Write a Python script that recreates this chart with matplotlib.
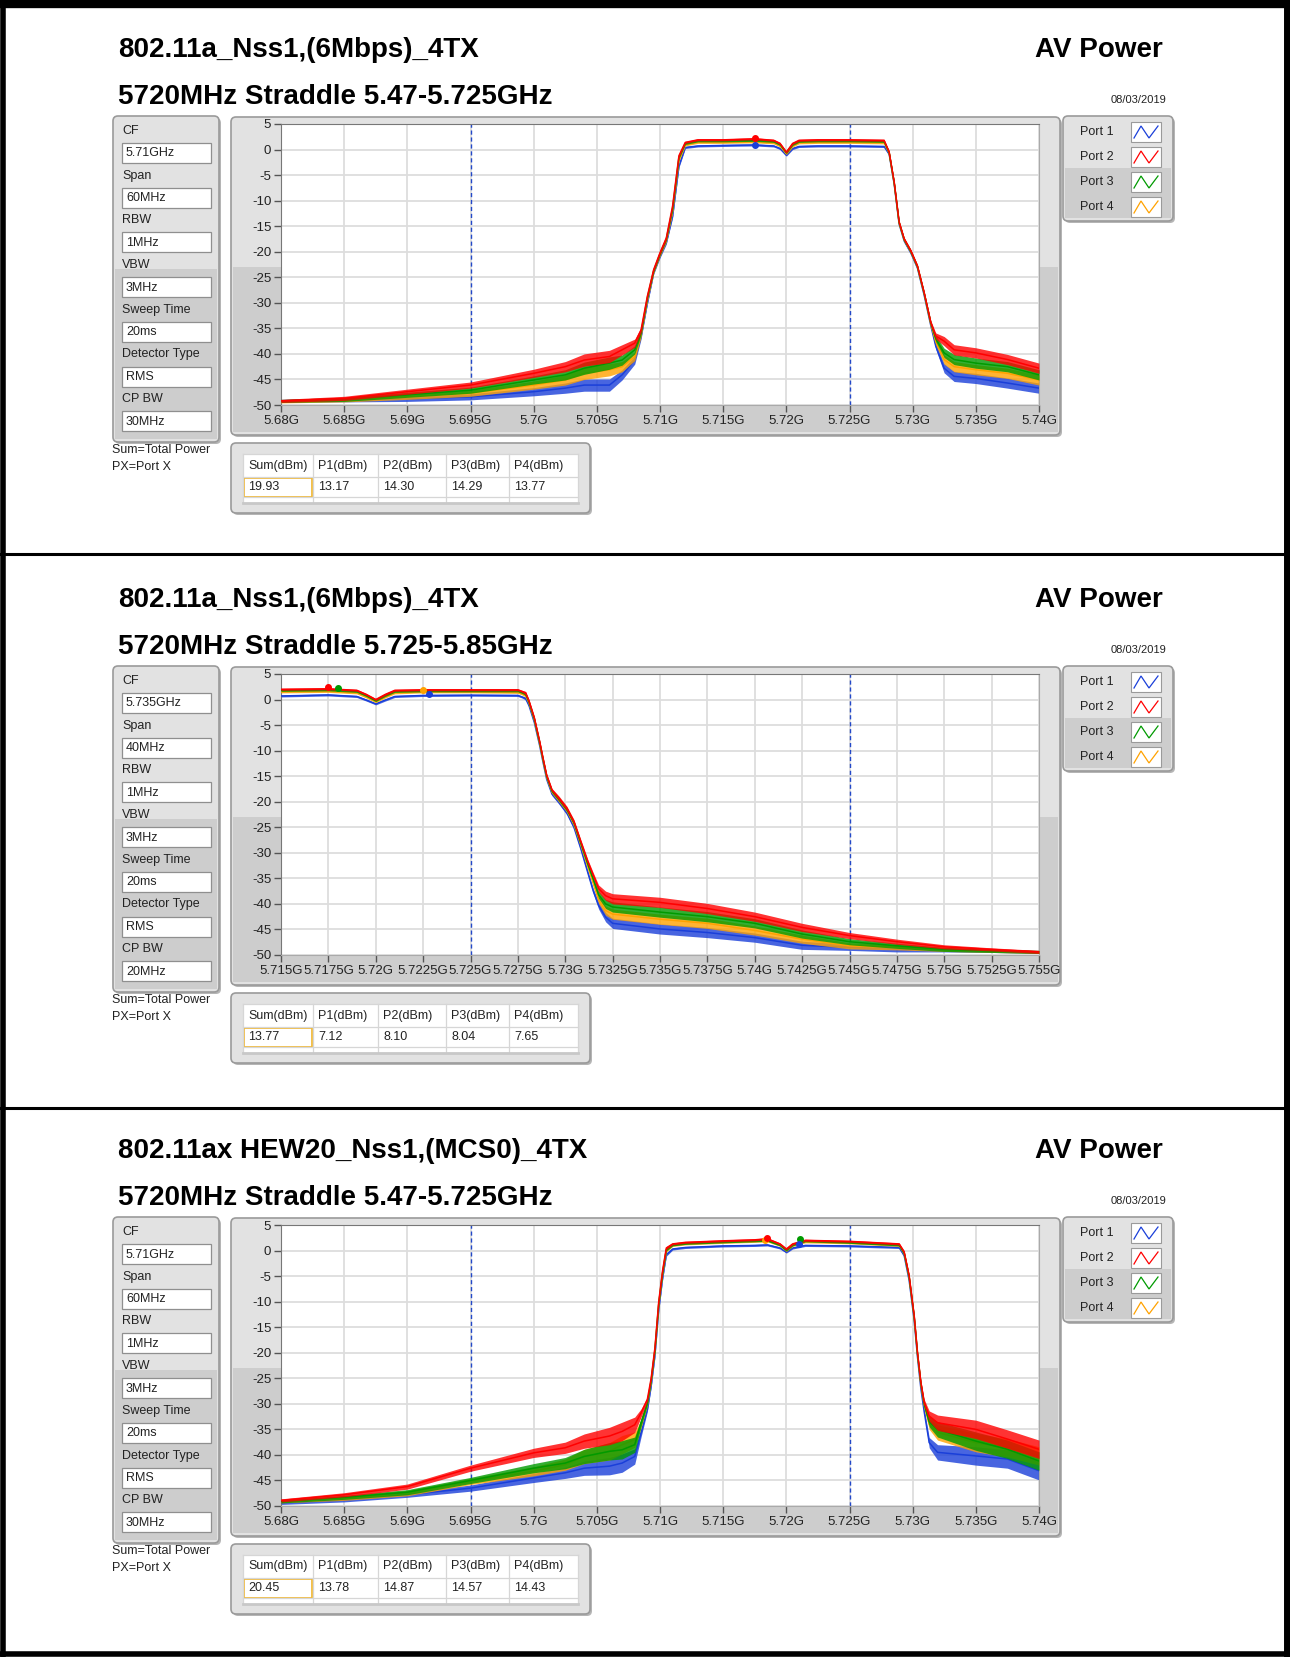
import matplotlib
matplotlib.use("Agg")
import matplotlib.pyplot as plt
from matplotlib.patches import Rectangle, FancyBboxPatch

plt.rcParams['font.family'] = ['Liberation Sans', 'DejaVu Sans']
plt.rcParams['axes.unicode_minus'] = False

W, H = 1290, 1657

# ---------------- data ----------------
port_names = ["Port 1", "Port 2", "Port 3", "Port 4"]
port_colors = ["#1a3fd9", "#ff0000", "#009a00", "#ffa200"]
draw_order = [0, 3, 2, 1]  # red ends up on top, like the analyser

titles = ["802.11a_Nss1,(6Mbps)_4TX", "802.11a_Nss1,(6Mbps)_4TX",
          "802.11ax HEW20_Nss1,(MCS0)_4TX"]
subtitles = ["5720MHz Straddle 5.47-5.725GHz", "5720MHz Straddle 5.725-5.85GHz",
             "5720MHz Straddle 5.47-5.725GHz"]
right_title = "AV Power"
date_text = "08/03/2019"

setting_labels = ["CF", "Span", "RBW", "VBW", "Sweep Time", "Detector Type", "CP BW"]
settings_1 = ["5.71GHz", "60MHz", "1MHz", "3MHz", "20ms", "RMS", "30MHz"]
settings_2 = ["5.735GHz", "40MHz", "1MHz", "3MHz", "20ms", "RMS", "20MHz"]
settings_3 = ["5.71GHz", "60MHz", "1MHz", "3MHz", "20ms", "RMS", "30MHz"]

table_headers = ["Sum(dBm)", "P1(dBm)", "P2(dBm)", "P3(dBm)", "P4(dBm)"]
table_1 = ["19.93", "13.17", "14.30", "14.29", "13.77"]
table_2 = ["13.77", "7.12", "8.10", "8.04", "7.65"]
table_3 = ["20.45", "13.78", "14.87", "14.57", "14.43"]

xticks_1 = [5.68, 5.685, 5.69, 5.695, 5.7, 5.705, 5.71, 5.715, 5.72, 5.725, 5.73, 5.735, 5.74]
xticks_2 = [5.715, 5.7175, 5.72, 5.7225, 5.725, 5.7275, 5.73, 5.7325, 5.735, 5.7375,
            5.74, 5.7425, 5.745, 5.7475, 5.75, 5.7525, 5.755]
xticks_3 = xticks_1
yticks = [-50, -45, -40, -35, -30, -25, -20, -15, -10, -5, 0, 5]
limit_lines_1 = [5.695, 5.725]
limit_lines_2 = [5.725, 5.745]
limit_lines_3 = [5.695, 5.725]

# panel 1 traces (GHz, dBm)
freq_1 = [5.680, 5.685, 5.690, 5.695, 5.700, 5.7025, 5.704, 5.706, 5.707, 5.708,
          5.7085, 5.709, 5.7095, 5.710, 5.7105, 5.711, 5.7115, 5.712, 5.713, 5.715,
          5.7175, 5.719, 5.7195, 5.720, 5.7205, 5.721, 5.7225, 5.725,
          5.72774, 5.72814, 5.72854, 5.72893, 5.72933, 5.72985, 5.73038, 5.73091,
          5.73144, 5.73183, 5.73249, 5.73328, 5.735, 5.7375, 5.740]
p1_port1 = [-49.2, -49.0, -48.8, -48.4, -47.4, -46.7, -46.1, -46.1, -44.1, -41.2,
            -36.6, -30.0, -24.1, -20.9, -18.2, -13.0, -3.2, 0.4, 0.7, 0.8,
            0.9, 0.7, 0.2, -1.1, 0.2, 0.6, 0.7, 0.7,
            0.6, -0.9, -6.8, -14.6, -17.9, -20.2, -23.2, -28.5, -34.5, -38.5, -42.8, -44.4, -44.8, -45.7, -46.7]
p1_port2 = [-49.2, -48.7, -47.4, -46.1, -43.8, -42.5, -41.2, -40.5, -39.2, -37.9,
            -35.3, -28.7, -23.5, -20.2, -17.3, -11.0, -1.2, 1.4, 1.9, 1.9,
            2.1, 1.8, 1.2, -0.5, 1.2, 1.8, 1.9, 1.9,
            1.8, -0.5, -6.4, -14.2, -17.5, -19.8, -22.8, -28.0, -33.9, -36.5, -37.5, -39.2, -39.8, -41.1, -42.8]
p1_port3 = [-49.2, -48.9, -48.0, -47.1, -45.1, -44.1, -42.8, -41.8, -41.2, -39.2,
            -35.8, -29.0, -23.7, -20.4, -17.5, -11.5, -1.5, 1.2, 1.7, 1.7,
            1.8, 1.6, 1.0, -0.6, 1.0, 1.6, 1.7, 1.7,
            1.6, -0.6, -6.5, -14.3, -17.6, -19.9, -22.9, -28.1, -34.0, -37.0, -39.8, -41.1, -41.8, -42.5, -44.1]
p1_port4 = [-49.3, -49.0, -48.4, -47.7, -46.1, -45.1, -43.8, -43.1, -42.5, -40.5,
            -36.2, -29.4, -23.9, -20.6, -17.8, -12.0, -2.0, 0.9, 1.4, 1.4,
            1.5, 1.3, 0.7, -0.8, 0.7, 1.3, 1.4, 1.4,
            1.3, -0.7, -6.6, -14.4, -17.7, -20.0, -23.0, -28.2, -34.2, -37.6, -41.1, -42.5, -43.1, -43.8, -45.1]
# visible trace jitter (half width, dB) read at the same frequencies
p1_jitter = [0.3, 0.4, 0.5, 0.6, 0.8, 1.0, 1.2, 1.2, 1.0, 0.8,
             0.5, 0.3, 0.3, 0.3, 0.3, 0.3, 0.3, 0.2, 0.2, 0.2,
             0.2, 0.2, 0.2, 0.2, 0.2, 0.2, 0.2, 0.2,
             0.2, 0.3, 0.3, 0.3, 0.3, 0.3, 0.3, 0.3, 0.4, 0.6, 0.9, 1.0, 1.0, 1.0, 1.0]

# panel 2 traces
freq_2 = [5.715, 5.7175, 5.719, 5.7195, 5.720, 5.7205, 5.721, 5.7225, 5.725, 5.7275,
          5.72772, 5.72791, 5.72809, 5.72837, 5.72865, 5.72883, 5.72902, 5.72930, 5.72967, 5.73009,
          5.73046, 5.73083, 5.73120, 5.73148, 5.73176, 5.73213, 5.7325, 5.735, 5.7375, 5.740,
          5.7425, 5.745, 5.7475, 5.750, 5.7525, 5.755]
p2_port1 = [0.7, 0.9, 0.6, -0.1, -0.85, -0.1, 0.6, 0.8, 0.85, 0.8,
            0.5, 0.2, -1.2, -4.5, -9.0, -12.3, -15.6, -18.5, -20.1, -22.2,
            -25.0, -29.3, -34.0, -37.5, -40.3, -42.6, -43.8, -44.9, -45.6, -46.6,
            -48.1, -48.5, -48.9, -49.0, -49.2, -49.4]
p2_port2 = [2.0, 2.1, 1.8, 1.0, 0.0, 1.0, 1.8, 1.9, 1.9, 1.9,
            1.6, 1.3, -0.3, -3.6, -8.2, -11.5, -14.8, -17.7, -19.3, -21.3,
            -23.9, -27.9, -31.8, -34.4, -37.0, -38.4, -39.0, -39.7, -40.9, -42.5,
            -44.6, -46.2, -47.4, -48.4, -48.9, -49.4]
p2_port3 = [1.8, 1.9, 1.6, 0.8, -0.2, 0.8, 1.6, 1.7, 1.7, 1.7,
            1.4, 1.1, -0.5, -3.8, -8.4, -11.7, -15.0, -17.9, -19.5, -21.5,
            -24.1, -28.2, -32.3, -35.2, -38.2, -40.0, -40.6, -41.6, -42.5, -43.8,
            -45.9, -47.4, -48.2, -48.9, -49.2, -49.4]
p2_port4 = [1.5, 1.6, 1.3, 0.5, -0.4, 0.5, 1.3, 1.5, 1.5, 1.4,
            1.1, 0.8, -0.7, -4.0, -8.6, -11.9, -15.2, -18.1, -19.7, -21.7,
            -24.4, -28.5, -32.8, -36.0, -39.2, -41.3, -42.0, -43.0, -43.8, -45.2,
            -46.9, -48.2, -48.5, -48.9, -49.2, -49.4]
p2_jitter = [0.2, 0.2, 0.2, 0.2, 0.2, 0.2, 0.2, 0.2, 0.2, 0.2,
             0.2, 0.3, 0.3, 0.3, 0.3, 0.3, 0.3, 0.3, 0.4, 0.4,
             0.4, 0.4, 0.4, 0.5, 0.7, 0.9, 1.0, 1.0, 1.0, 0.9,
             0.8, 0.6, 0.5, 0.4, 0.3, 0.3]

# panel 3 traces
freq_3 = [5.680, 5.685, 5.690, 5.695, 5.700, 5.7025, 5.704, 5.706, 5.707, 5.708,
          5.7085, 5.709, 5.7093, 5.7096, 5.7099, 5.7102, 5.7105, 5.711, 5.712, 5.715,
          5.7175, 5.7185, 5.7195, 5.720, 5.7205, 5.7215, 5.725, 5.72893, 5.72933, 5.72972,
          5.73012, 5.73038, 5.73065, 5.73091, 5.73131, 5.73197, 5.735, 5.7375, 5.740]
p3_port1 = [-49.4, -48.8, -47.8, -46.5, -44.5, -43.5, -42.6, -42.2, -41.6, -40.3,
            -35.7, -31.1, -26.5, -20.5, -11.5, -5.5, -0.8, 0.3, 0.6, 0.9,
            1.0, 1.1, 0.5, -0.3, 0.5, 1.0, 0.9, 0.6, -1.0, -5.8,
            -13.6, -20.8, -27.0, -31.5, -37.6, -39.5, -40.2, -40.8, -43.1]
p3_port2 = [-48.9, -47.8, -46.2, -42.6, -39.6, -38.6, -37.3, -36.3, -35.4, -34.1,
            -31.8, -29.1, -25.0, -19.0, -10.0, -4.0, 0.5, 1.3, 1.6, 1.9,
            2.1, 2.3, 1.3, 0.3, 1.3, 2.0, 1.8, 1.3, -0.3, -4.9,
            -12.7, -19.9, -25.8, -29.7, -32.4, -33.7, -35.0, -36.9, -38.9]
p3_port3 = [-49.1, -48.3, -47.3, -45.0, -42.6, -41.6, -40.3, -39.3, -39.0, -38.0,
            -33.7, -29.8, -25.4, -19.4, -10.4, -4.4, 0.2, 1.1, 1.4, 1.7,
            1.9, 2.0, 1.1, 0.1, 1.1, 1.9, 1.6, 1.1, -0.5, -5.1,
            -12.9, -20.1, -26.0, -30.0, -33.5, -35.0, -37.3, -38.9, -41.2]
p3_port4 = [-49.1, -48.5, -47.5, -45.2, -43.2, -41.9, -40.3, -39.3, -38.0, -37.0,
            -33.9, -30.0, -25.6, -19.6, -10.6, -4.6, 0.0, 1.0, 1.3, 1.6,
            1.8, 1.9, 1.0, 0.0, 1.0, 1.7, 1.5, 1.0, -0.6, -5.2,
            -13.0, -20.2, -26.2, -30.2, -34.0, -35.6, -37.6, -38.6, -40.2]
p3_jitter = [0.3, 0.4, 0.5, 0.6, 0.9, 1.1, 1.4, 1.7, 1.8, 1.5,
             0.8, 0.4, 0.3, 0.3, 0.3, 0.3, 0.3, 0.2, 0.2, 0.2,
             0.2, 0.2, 0.2, 0.2, 0.2, 0.2, 0.2, 0.2, 0.3, 0.3,
             0.3, 0.3, 0.4, 0.6, 1.0, 1.5, 1.8, 1.8, 1.8]

# peak markers (port index, GHz, dBm)
markers_1 = [(1, 5.7175, 2.3), (0, 5.7175, 0.9)]
markers_2 = [(1, 5.7175, 2.4), (2, 5.718, 2.2), (3, 5.7225, 1.8), (0, 5.7228, 1.1)]
markers_3 = [(3, 5.7183, 2.0), (1, 5.7185, 2.5), (2, 5.7211, 2.3), (0, 5.721, 1.3)]

panels = [
    (titles[0], subtitles[0], settings_1, table_1, xticks_1, limit_lines_1, freq_1,
     [p1_port1, p1_port2, p1_port3, p1_port4], p1_jitter, markers_1),
    (titles[1], subtitles[1], settings_2, table_2, xticks_2, limit_lines_2, freq_2,
     [p2_port1, p2_port2, p2_port3, p2_port4], p2_jitter, markers_2),
    (titles[2], subtitles[2], settings_3, table_3, xticks_3, limit_lines_3, freq_3,
     [p3_port1, p3_port2, p3_port3, p3_port4], p3_jitter, markers_3),
]
panel_offsets = [0, 550, 1101]

# ---------------- drawing ----------------
LIGHT = "#e2e2e2"
DARK = "#cdcdcd"
EDGE = "#9a9a9a"
TXT = "#222222"

fig = plt.figure(figsize=(W / 100, H / 100), dpi=100)
bg = fig.add_axes([0, 0, 1, 1], zorder=0)
bg.set_xlim(0, W)
bg.set_ylim(H, 0)
bg.axis('off')


def frame(x0, y0, x1, y1, split=None):
    """LabVIEW style rounded gray panel"""
    bg.add_patch(FancyBboxPatch((x0 + 2, y0 + 2), x1 - x0, y1 - y0,
                                boxstyle="round,pad=0,rounding_size=5",
                                fc="#b5b5b5", ec="none"))
    bg.add_patch(FancyBboxPatch((x0, y0), x1 - x0, y1 - y0,
                                boxstyle="round,pad=0,rounding_size=5",
                                fc=LIGHT, ec="none"))
    if split is not None:
        bg.add_patch(Rectangle((x0 + 2, split), x1 - x0 - 4, y1 - split - 3,
                               fc=DARK, ec="none"))
    bg.add_patch(FancyBboxPatch((x0, y0), x1 - x0, y1 - y0,
                                boxstyle="round,pad=0,rounding_size=5",
                                fc="none", ec=EDGE, lw=1.2))


def field(x0, y0, x1, y1, text):
    bg.add_patch(Rectangle((x0, y0), x1 - x0, y1 - y0, fc="white", ec="#8f8f8f", lw=0.9))
    bg.text(x0 + 4, (y0 + y1) / 2 + 0.5, text, fontsize=9, color=TXT, va="center", ha="left")


for (title, subtitle, sett, tvals, xt, lims, freq, traces, jit, marks), dy in zip(panels, panel_offsets):
    # headings
    bg.text(118, 50 + dy, title, fontsize=20, fontweight="bold", va="center", ha="left")
    bg.text(118, 97 + dy, subtitle, fontsize=20, fontweight="bold", va="center", ha="left")
    bg.text(1163, 50 + dy, right_title, fontsize=20, fontweight="bold", va="center", ha="right")
    bg.text(1166, 100 + dy, date_text, fontsize=8, va="center", ha="right", color=TXT)

    # settings side panel
    frame(113, 116 + dy, 219, 442 + dy, split=269 + dy)
    for i, (lab, val) in enumerate(zip(setting_labels, sett)):
        ly = 131 + dy + i * 44.7
        bg.text(122, ly, lab, fontsize=9, color=TXT, va="center", ha="left")
        field(122, ly + 12, 211, ly + 32, val)
    bg.text(112, 450 + dy, "Sum=Total Power", fontsize=9, color=TXT, va="center")
    bg.text(112, 467 + dy, "PX=Port X", fontsize=9, color=TXT, va="center")

    # graph frame
    frame(231, 117 + dy, 1060, 435 + dy, split=267 + dy)

    # legend
    frame(1063, 116 + dy, 1173, 221 + dy, split=168 + dy)
    for i, (name, col) in enumerate(zip(port_names, port_colors)):
        ry = 132 + dy + i * 25
        bg.text(1080, ry, name, fontsize=9, color=TXT, va="center")
        bg.add_patch(Rectangle((1131, ry - 10), 30, 20, fc="white", ec="#9a9a9a", lw=0.8))
        bg.plot([1134, 1141, 1149, 1158], [ry + 6, ry - 6, ry + 6, ry - 6],
                color=col, lw=0.9, solid_joinstyle="miter")

    # power table
    frame(231, 443 + dy, 590, 513 + dy)
    cols = [243, 313, 378, 446, 509, 578]
    bg.add_patch(Rectangle((243, 454 + dy), 335, 49, fc="white", ec="none"))
    for cx in cols:
        bg.plot([cx, cx], [454 + dy, 503 + dy], color="#d6d6d6", lw=0.9)
    for yy in [454, 477, 497]:
        bg.plot([243, 578], [yy + dy, yy + dy], color="#d6d6d6", lw=0.9)
    bg.plot([243, 578], [503 + dy, 503 + dy], color="#c8c8c8", lw=2)
    for i, (hd, v) in enumerate(zip(table_headers, tvals)):
        bg.text(cols[i] + 5, 465.5 + dy, hd, fontsize=9, color=TXT, va="center")
        bg.text(cols[i] + 5, 487 + dy, v, fontsize=9, color=TXT, va="center")
    bg.add_patch(Rectangle((244, 478 + dy), 68, 19, fc="none", ec="#f0b429", lw=1.2))

    # spectrum plot
    ax = fig.add_axes([281 / W, 1 - (405 + dy) / H, (1039 - 281) / W, (405 - 124) / H], zorder=2)
    ax.set_facecolor("white")
    ax.set_xlim(xt[0], xt[-1])
    ax.set_ylim(-50, 5)
    ax.set_xticks(xt)
    ax.set_xticklabels([f"{t:g}G" for t in xt])
    ax.set_yticks(yticks)
    ax.grid(True, color="#dddddd", lw=1.3)
    ax.set_axisbelow(True)
    ax.tick_params(direction="out", length=5, width=1, color="#555555",
                   labelsize=9.5, labelcolor=TXT, pad=2)
    for side in ["left", "top"]:
        ax.spines[side].set_color("#777777")
    for side in ["right", "bottom"]:
        ax.spines[side].set_color("#aaaaaa")
    for lx in lims:
        ax.axvline(lx, color="#2348c8", lw=1, ls=(0, (3, 2)), zorder=1.5)
    for k, pi in enumerate(draw_order):
        tr, col = traces[pi], port_colors[pi]
        lo = [v - j for v, j in zip(tr, jit)]
        hi = [v + j for v, j in zip(tr, jit)]
        ax.fill_between(freq, lo, hi, color=col, alpha=0.8, lw=0, zorder=2.5 + k * 0.1)
        ax.plot(freq, tr, color=col, lw=1.1, zorder=2.55 + k * 0.1)
    for pi, mx, my in marks:
        ax.plot(mx, my, "o", color=port_colors[pi], ms=4, zorder=4)

# outer black borders
bg.plot([0, W], [4, 4], color="black", lw=6)
bg.plot([2.5, 2.5], [0, H], color="black", lw=4)
bg.plot([W - 3.5, W - 3.5], [0, H], color="black", lw=5)
bg.plot([0, W], [H - 3, H - 3], color="black", lw=4)
for sy in [554, 1108]:
    bg.plot([0, W], [sy, sy], color="black", lw=2.2)

fig.savefig("out.png", dpi=100)
